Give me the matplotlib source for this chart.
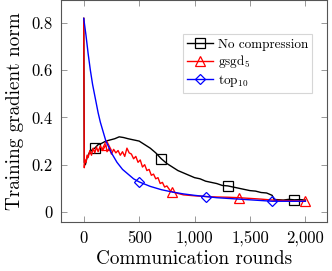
import matplotlib
matplotlib.use('Agg')
import matplotlib.pyplot as plt
from matplotlib.ticker import FuncFormatter

plt.rcParams['font.family'] = 'serif'
plt.rcParams['font.serif'] = ['cmr10', 'DejaVu Serif']
plt.rcParams['mathtext.fontset'] = 'cm'
plt.rcParams['axes.formatter.use_mathtext'] = True

# no compression (black)
nc_x = [0, 5, 15, 30, 50, 80, 100, 130, 160, 200, 240, 280, 320, 360, 400, 450, 500,
        550, 600, 650, 700, 750, 800, 850, 900, 950, 1000, 1050, 1100, 1150, 1200,
        1250, 1300, 1350, 1400, 1450, 1500, 1550, 1600, 1650, 1700, 1720, 1740,
        1800, 1850, 1900, 1950, 2000]
nc_y = [0.82, 0.21, 0.20, 0.23, 0.25, 0.265, 0.27, 0.285, 0.29, 0.30, 0.305, 0.31, 0.318,
        0.315, 0.31, 0.305, 0.30, 0.285, 0.27, 0.25, 0.225, 0.205, 0.19, 0.175, 0.165,
        0.155, 0.145, 0.14, 0.13, 0.125, 0.12, 0.112, 0.11, 0.105, 0.1, 0.095, 0.09,
        0.088, 0.082, 0.08, 0.07, 0.05, 0.052, 0.05, 0.053, 0.051, 0.052, 0.05]

# gsgd_5 (red)
gs_x = [0, 5, 12, 20, 30, 40, 55, 70, 85, 100, 115, 130, 150, 170, 200, 210, 230, 250,
        270, 290, 310, 330, 350, 370, 390, 410, 430, 450, 470, 490, 510, 530, 550,
        570, 590, 610, 630, 650, 670, 690, 710, 730, 750, 780, 800, 850, 900, 950,
        1000, 1100, 1200, 1300, 1400, 1500, 1600, 1700, 1800, 1900, 2000]
gs_y = [0.82, 0.187, 0.22, 0.21, 0.24, 0.23, 0.26, 0.24, 0.27, 0.25, 0.275, 0.255, 0.28,
        0.26, 0.285, 0.255, 0.27, 0.245, 0.265, 0.25, 0.26, 0.24, 0.255, 0.235, 0.27,
        0.25, 0.245, 0.225, 0.235, 0.21, 0.22, 0.19, 0.2, 0.175, 0.18, 0.155, 0.16,
        0.14, 0.145, 0.12, 0.125, 0.105, 0.11, 0.09, 0.085, 0.078, 0.072, 0.07,
        0.068, 0.065, 0.063, 0.062, 0.06, 0.057, 0.054, 0.05, 0.048, 0.047, 0.045]

# top_10 (blue)
tk_x = [0, 20, 40, 60, 80, 105, 130, 150, 175, 200, 250, 300, 350, 400, 450, 500, 600,
        700, 800, 900, 1000, 1100, 1200, 1300, 1400, 1500, 1600, 1700, 1800, 1900, 2000]
tk_y = [0.82, 0.75, 0.67, 0.6, 0.54, 0.48, 0.42, 0.38, 0.34, 0.30, 0.25, 0.21, 0.18,
        0.16, 0.14, 0.127, 0.108, 0.094, 0.084, 0.076, 0.07, 0.065, 0.06, 0.057, 0.054,
        0.051, 0.048, 0.045, 0.045, 0.045, 0.045]

nc_marks = [100, 700, 1300, 1900]
gs_marks = [200, 800, 1400, 2000]
tk_marks = [500, 1100, 1700]

xticks = [0, 500, 1000, 1500, 2000]
yticks = [0, 0.2, 0.4, 0.6, 0.8]

fig = plt.figure(figsize=(3.32, 2.71), dpi=100)
ax = fig.add_axes([61 / 332, 1 - 222 / 271, 266 / 332, 222 / 271])


def mark_idx(xs, marks):
    return [min(range(len(xs)), key=lambda i: abs(xs[i] - m)) for m in marks]


ax.plot(nc_x, nc_y, color='black', lw=1.0, marker='s', ms=7, mfc='none', mew=0.9,
        markevery=mark_idx(nc_x, nc_marks), label='No compression')
ax.plot(gs_x, gs_y, color='red', lw=1.0, marker='^', ms=7, mfc='none', mew=0.9,
        markevery=mark_idx(gs_x, gs_marks), label=r'gsgd$_5$')
ax.plot(tk_x, tk_y, color='blue', lw=1.0, marker='D', ms=5, mfc='none', mew=0.9,
        markevery=mark_idx(tk_x, tk_marks), label=r'top$_{10}$')

ax.set_xlim(-205, 2195)
ax.set_ylim(-0.043, 0.898)
ax.set_xticks(xticks)
ax.set_yticks(yticks)
ax.xaxis.set_major_formatter(FuncFormatter(lambda v, p: f'{int(v):,}'))
ax.yaxis.set_major_formatter(FuncFormatter(lambda v, p: '0' if v == 0 else f'{v:.1f}'))
ax.tick_params(direction='in', top=True, right=True, length=4, width=0.6,
               color='#888888', labelsize=12, pad=6)
for s in ax.spines.values():
    s.set_linewidth(0.8)
    s.set_color('#555555')

ax.set_xlabel('Communication rounds', fontsize=13.8, labelpad=3)
ax.set_ylabel('Training gradient norm', fontsize=13.8, labelpad=5)

leg = ax.legend(loc='upper right', bbox_to_anchor=(0.97, 0.875), fontsize=9.5,
                frameon=True, fancybox=False, handlelength=2.0, borderpad=0.3,
                labelspacing=0.2, handletextpad=0.4)
leg.get_frame().set_edgecolor('#cccccc')
leg.get_frame().set_linewidth(0.8)

fig.savefig('out.png', dpi=100)
